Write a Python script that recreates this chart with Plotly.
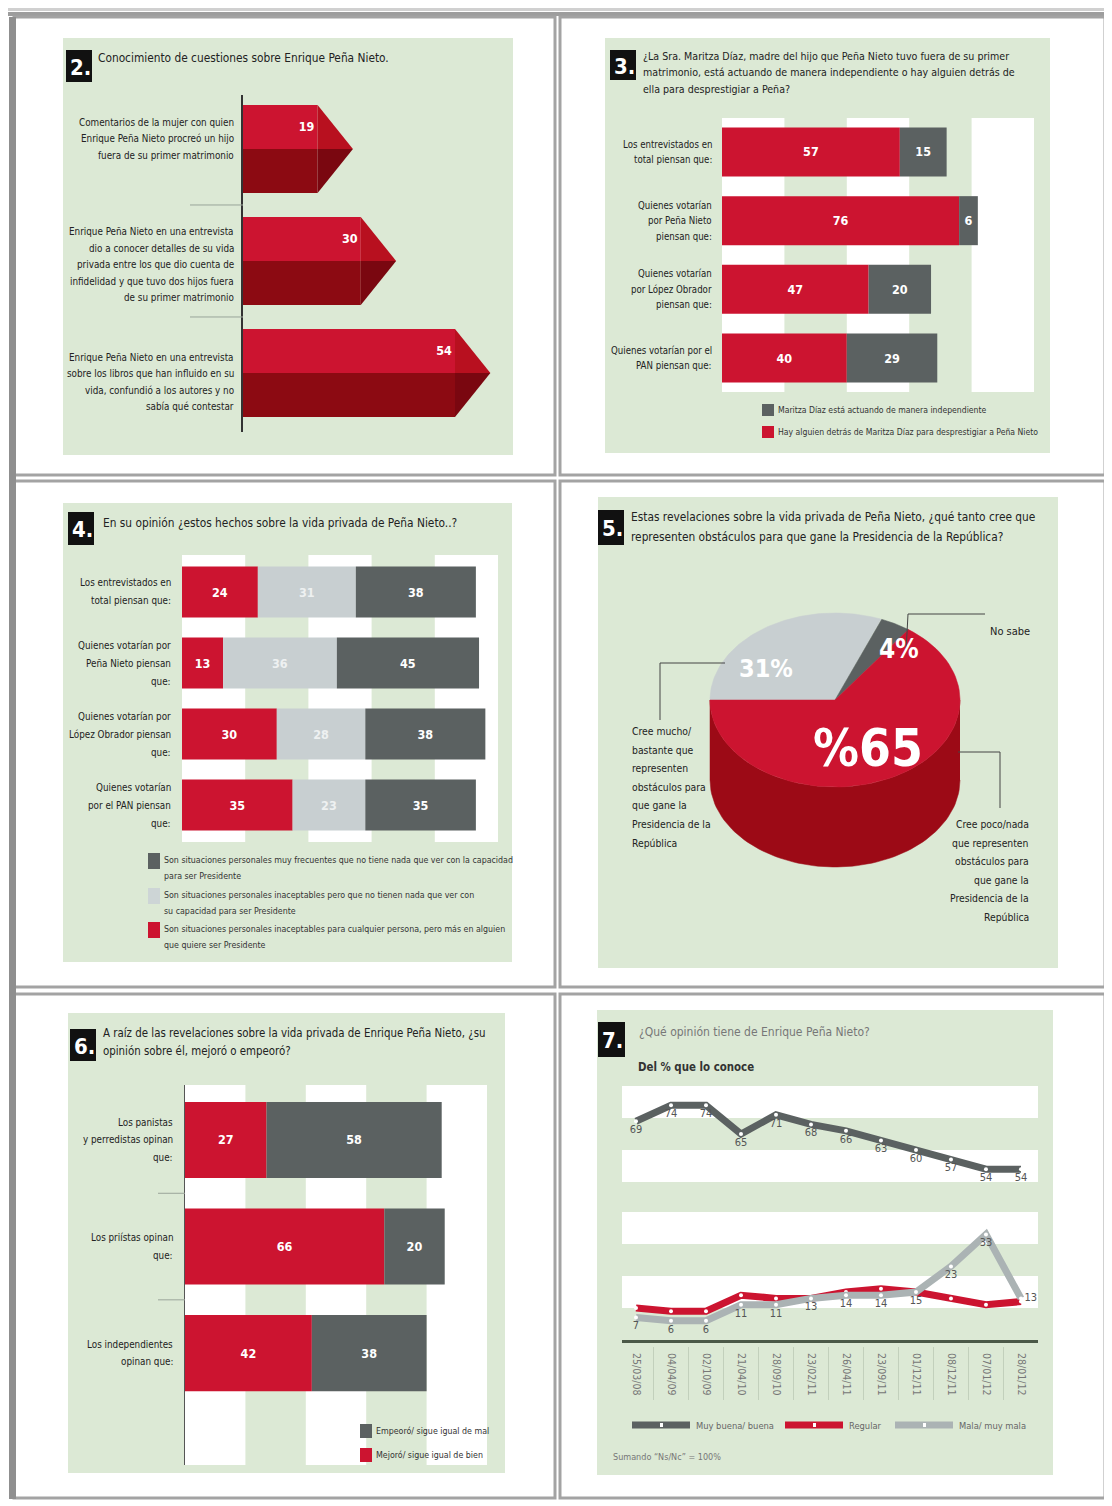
import numpy as np
import plotly.graph_objects as go

W, H = 1112, 1506
OFF = 8                      # default body margin of the html page
WF, HF = W - OFF, H - OFF    # figure size so the page is exactly W x H
FONT = "Liberation Sans Narrow, DejaVu Sans Condensed, Roboto Condensed, Arial Narrow, Liberation Sans, sans-serif"
RED = "#cc1430"
DARKRED = "#8c0a12"
DGRAY = "#5b6161"
LGRAY = "#c8cfd1"
GREEN = "#dce9d5"

# ---------------- data ----------------
p2_labels = [
    "Comentarios de la mujer con quien<br>Enrique Peña Nieto procreó un hijo<br>fuera de su primer matrimonio",
    "Enrique Peña Nieto en una entrevista<br>dio a conocer detalles de su vida<br>privada entre los que dio cuenta de<br>infidelidad y que tuvo dos hijos fuera<br>de su primer matrimonio",
    "Enrique Peña Nieto en una entrevista<br>sobre los libros que han influido en su<br>vida, confundió a los autores y no<br>sabía qué contestar",
]
p2_values = [19, 30, 54]

p3_labels = [
    "Los entrevistados en<br>total piensan que:",
    "Quienes votarían<br>por Peña Nieto<br>piensan que:",
    "Quienes votarían<br>por López Obrador<br>piensan que:",
    "Quienes votarían por el<br>PAN piensan que:",
]
p3_someone = [57, 76, 47, 40]
p3_indep = [15, 6, 20, 29]
p3_legend = ["Maritza Díaz está actuando de manera independiente",
             "Hay alguien detrás de Maritza Díaz para desprestigiar a Peña Nieto"]

p4_labels = [
    "Los entrevistados en<br>total piensan que:",
    "Quienes votarían por<br>Peña Nieto piensan<br>que:",
    "Quienes votarían por<br>López Obrador piensan<br>que:",
    "Quienes votarían<br>por el PAN piensan<br>que:",
]
p4_unacc_all = [24, 13, 30, 35]
p4_unacc_pers = [31, 36, 28, 23]
p4_frequent = [38, 45, 38, 35]
p4_legend = [
    "Son situaciones personales muy frecuentes que no tiene nada que ver con la capacidad<br>para ser Presidente",
    "Son situaciones personales inaceptables pero que no tienen nada que ver con<br>su capacidad para ser Presidente",
    "Son situaciones personales inaceptables para cualquier persona, pero más en alguien<br>que quiere ser Presidente",
]

p5_names = ["Cree mucho/<br>bastante que<br>representen<br>obstáculos para<br>que gane la<br>Presidencia de la<br>República",
            "No sabe",
            "Cree poco/nada<br>que representen<br>obstáculos para<br>que gane la<br>Presidencia de la<br>República"]
p5_values = [31, 4, 65]
p5_text = ["31%", "4%", "%65"]

p6_labels = [
    "Los panistas<br>y perredistas opinan<br>que:",
    "Los priístas opinan<br>que:",
    "Los independientes<br>opinan que:",
]
p6_better = [27, 66, 42]
p6_worse = [58, 20, 38]
p6_legend = ["Empeoró/ sigue igual de mal", "Mejoró/ sigue igual de bien"]

p7_dates = ["25/03/08", "04/04/09", "02/10/09", "21/04/10", "28/09/10", "23/02/11",
            "26/04/11", "23/09/11", "01/12/11", "08/12/11", "07/01/12", "28/01/12"]
p7_good = [69, 74, 74, 65, 71, 68, 66, 63, 60, 57, 54, 54]
p7_regular = [10, 9, 9, 14, 13, 13, 15, 16, 15, 13, 11, 12]
p7_bad = [7, 6, 6, 11, 11, 13, 14, 14, 15, 23, 33, 13]
p7_legend = ["Muy buena/ buena", "Regular", "Mala/ muy mala"]


# ---------------- helpers ----------------
def fx(p):
    return (p - OFF) / WF


def fy(p):
    return 1 - (p - OFF) / HF


def xdom(a, b):
    return [fx(a), fx(b)]


def ydom(top, bottom):
    return [fy(bottom), fy(top)]


shapes = []
annotations = []


def rect(x0, y0, x1, y1, fill, line=None, lw=0, layer="below"):
    shapes.append(dict(type="rect", xref="paper", yref="paper",
                       x0=fx(x0), x1=fx(x1), y0=fy(y1), y1=fy(y0),
                       fillcolor=fill, line=dict(color=line or fill, width=lw), layer=layer))


def pline(x0, y0, x1, y1, color="#444", width=1, layer="above"):
    shapes.append(dict(type="line", xref="paper", yref="paper",
                       x0=fx(x0), x1=fx(x1), y0=fy(y0), y1=fy(y1),
                       line=dict(color=color, width=width), layer=layer))


def ann(text, x, y, size=12, color="#222", xanchor="left", pitch=16, yref="paper",
        top=False, yshift=0):
    """Text placed line by line. x is a pixel position. If yref is 'paper', y is the
    pixel position of the first line (top=True) or the block centre; otherwise y is a
    data value on that axis and the block is centred on it."""
    lines = text.split("<br>")
    n = len(lines)
    for i, line in enumerate(lines):
        if top:
            off = i * pitch
        else:
            off = (i - (n - 1) / 2.0) * pitch
        if yref == "paper":
            yy, ys = fy(y + off), 0
        else:
            yy, ys = y, -off
        annotations.append(dict(text=line, x=fx(x), y=yy, xref="paper", yref=yref,
                                xanchor=xanchor, yanchor="middle", showarrow=False,
                                yshift=ys + yshift,
                                font=dict(family=FONT, size=size, color=color)))


def badge(num, x0, y0, x1, y1):
    rect(x0, y0, x1, y1, "#111111", layer="above")
    ann("<b>%s.</b>" % num, (x0 + x1) / 2 + 1, (y0 + y1) / 2 + 1, size=22,
        color="white", xanchor="center")


# ---------------- page frame ----------------
rect(8, 8, 1112, 11, "#d0d0d0")
rect(8, 12, 1112, 16, "#9d9d9d")
for (x0, y0, x1, y1) in [(14, 17, 555, 475), (560, 17, 1105, 475), (14, 481, 555, 987),
                         (560, 481, 1105, 987), (14, 994, 555, 1498), (560, 994, 1105, 1498)]:
    rect(x0, y0, x1, y1, "white", line="#a3a3a3", lw=3)
rect(9, 17, 16, 1499, "#8f8f8f")

for (x0, y0, x1, y1) in [(63, 38, 513, 455), (605, 38, 1050, 453), (63, 503, 512, 962),
                         (598, 497, 1058, 968), (68, 1013, 505, 1473), (597, 1010, 1053, 1475)]:
    rect(x0, y0, x1, y1, GREEN)

fig = go.Figure()
hidden = dict(showgrid=False, zeroline=False, showticklabels=False, ticks="", fixedrange=True)
BARFONT = dict(family=FONT, size=12.5, color="white")

# ================= Panel 2 =================
badge(2, 66, 50, 92, 82)
ann("Conocimiento de cuestiones sobre Enrique Peña Nieto.", 96, 58, size=11.8)
pos2 = list(range(len(p2_values)))
half = 0.393
fig.add_trace(go.Bar(x=p2_values, y=pos2, orientation="h", width=half, offset=-half,
                     marker=dict(color=RED, line=dict(width=0)),
                     text=["<b>%d</b>" % v for v in p2_values], textposition="inside",
                     insidetextanchor="end", textangle=0, textfont=BARFONT,
                     xaxis="x", yaxis="y", hoverinfo="skip"))
fig.add_trace(go.Bar(x=p2_values, y=pos2, orientation="h", width=half, offset=0,
                     marker=dict(color=DARKRED, line=dict(width=0)),
                     xaxis="x", yaxis="y", hoverinfo="skip"))
TIP = 9
for v, c in zip(p2_values, pos2):
    shapes.append(dict(type="path", xref="x", yref="y",
                       path="M %s,%s L %s,%s L %s,%s Z" % (v, c - half, v + TIP, c, v, c),
                       fillcolor="#b8101f", line=dict(width=0), layer="above"))
    shapes.append(dict(type="path", xref="x", yref="y",
                       path="M %s,%s L %s,%s L %s,%s Z" % (v, c, v + TIP, c, v, c + half),
                       fillcolor="#7a0710", line=dict(width=0), layer="above"))
label_shift2 = [10, -4, -9]
for c, lab in enumerate(p2_labels):
    ann(lab, 236, c, size=9.8, pitch=16.5, yref="y", xanchor="right", yshift=label_shift2[c])
for c in [0.5, 1.5]:
    shapes.append(dict(type="line", xref="paper", yref="y", x0=fx(190), x1=fx(243),
                       y0=c, y1=c, line=dict(color="#9aa59a", width=1)))

# ================= Panel 3 =================
badge(3, 610, 50, 636, 80)
ann("¿La Sra. Maritza Díaz, madre del hijo que Peña Nieto tuvo fuera de su primer<br>"
    "matrimonio, está actuando de manera independiente o hay alguien detrás de<br>"
    "ella para desprestigiar a Peña?", 641, 56, size=10.6, pitch=16.5, top=True)
pos3 = list(range(len(p3_someone)))
for x0 in [0, 40, 80]:
    shapes.append(dict(type="rect", xref="x2", yref="y2 domain", x0=x0, x1=x0 + 20, y0=0, y1=1,
                       fillcolor="white", line=dict(width=0), layer="below"))
fig.add_trace(go.Bar(x=p3_someone, y=pos3, base=0, orientation="h", width=0.714,
                     marker=dict(color=RED, line=dict(width=0)),
                     text=["<b>%d</b>" % v for v in p3_someone], textposition="inside",
                     insidetextanchor="middle", textangle=0, textfont=BARFONT,
                     xaxis="x2", yaxis="y2", hoverinfo="skip"))
fig.add_trace(go.Bar(x=p3_indep, y=pos3, base=p3_someone, orientation="h", width=0.714,
                     marker=dict(color=DGRAY, line=dict(width=0)),
                     text=["<b>%d</b>" % v for v in p3_indep], textposition="inside",
                     insidetextanchor="middle", textangle=0, textfont=BARFONT,
                     xaxis="x2", yaxis="y2", hoverinfo="skip"))
for i, lab in enumerate(p3_labels):
    ann(lab, 714, i, size=9.6, pitch=15.5, yref="y2", xanchor="right")
rect(762, 404, 774, 416, DGRAY, layer="above")
rect(762, 426, 774, 438, RED, layer="above")
ann(p3_legend[0], 776, 410, size=8.6, color="#333")
ann(p3_legend[1], 776, 432, size=8.6, color="#333")

# ================= Panel 4 =================
badge(4, 68, 512, 94, 545)
ann("En su opinión ¿estos hechos sobre la vida privada de Peña Nieto..?", 101, 523, size=11.8)
pos4 = list(range(len(p4_unacc_all)))
for x0 in [0, 40, 80]:
    shapes.append(dict(type="rect", xref="x3", yref="y3 domain", x0=x0, x1=x0 + 20, y0=0, y1=1,
                       fillcolor="white", line=dict(width=0), layer="below"))
base_b = p4_unacc_all
base_c = [a + b for a, b in zip(p4_unacc_all, p4_unacc_pers)]
for vals, base, col, tcol in [(p4_unacc_all, 0, RED, "white"),
                              (p4_unacc_pers, base_b, LGRAY, "#eef1f1"),
                              (p4_frequent, base_c, DGRAY, "white")]:
    fig.add_trace(go.Bar(x=vals, y=pos4, base=base, orientation="h", width=0.718,
                         marker=dict(color=col, line=dict(width=0)),
                         text=["<b>%d</b>" % v for v in vals], textposition="inside",
                         insidetextanchor="middle", textangle=0,
                         textfont=dict(family=FONT, size=12.5, color=tcol),
                         xaxis="x3", yaxis="y3", hoverinfo="skip"))
for i, lab in enumerate(p4_labels):
    ann(lab, 173, i, size=9.8, pitch=18, yref="y3", xanchor="right")
for (yy, col, txt) in [(853, DGRAY, p4_legend[0]), (888, "#cdd5d6", p4_legend[1]),
                       (922, RED, p4_legend[2])]:
    rect(148, yy, 160, yy + 16, col, layer="above")
    ann(txt, 162, yy + 7, size=8.8, color="#333", pitch=16, top=True)

# ================= Panel 5 (3D-like pie) =================
badge(5, 598, 510, 624, 545)
ann("Estas revelaciones sobre la vida privada de Peña Nieto, ¿qué tanto cree que<br>"
    "representen obstáculos para que gane la Presidencia de la República?",
    629, 517, size=11.8, pitch=20, top=True)
RX, RY, YC, DEPTH = 125.0, 87.0, 40.0, 80.0
top_cols = [LGRAY, DGRAY, RED]
wall_cols = ["#9aa2a4", "#3e4343", "#9c0a16"]
total = float(sum(p5_values))
a = 180.0
spans = []
for v in p5_values:
    s = 360.0 * v / total
    spans.append((a, a - s))
    a -= s
for (a0, a1), wc in zip(spans, wall_cols):
    hi, lo = min(a0, 0.0), max(a1, -180.0)
    if hi > lo:
        t = np.radians(np.linspace(hi, lo, 80))
        xs = np.concatenate([RX * np.cos(t), RX * np.cos(t[::-1])])
        ys = np.concatenate([YC + RY * np.sin(t), YC - DEPTH + RY * np.sin(t[::-1])])
        fig.add_trace(go.Scatter(x=xs, y=ys, fill="toself", fillcolor=wc, mode="lines",
                                 line=dict(width=0.5, color=wc), xaxis="x4", yaxis="y4",
                                 hoverinfo="skip"))
for (a0, a1), tc in zip(spans, top_cols):
    t = np.radians(np.linspace(a0, a1, 80))
    xs = np.concatenate([[0], RX * np.cos(t), [0]])
    ys = np.concatenate([[YC], YC + RY * np.sin(t), [YC]])
    fig.add_trace(go.Scatter(x=xs, y=ys, fill="toself", fillcolor=tc, mode="lines",
                             line=dict(width=0.5, color=tc), xaxis="x4", yaxis="y4",
                             hoverinfo="skip"))
ann("<b>%s</b>" % p5_text[0], 766, 669, size=25, color="white", xanchor="center")
ann("<b>%s</b>" % p5_text[1], 899, 649, size=26, color="white", xanchor="center")
ann("<b>%s</b>" % p5_text[2], 868, 749, size=51, color="white", xanchor="center")
pline(660, 720, 660, 663)
pline(660, 663, 725, 663)
pline(906, 652, 908, 614)
pline(908, 614, 985, 614)
pline(958, 752, 1000, 752)
pline(1000, 752, 1000, 808)
ann(p5_names[1], 988, 631, size=11)
ann(p5_names[0], 630, 731, size=10.3, pitch=18.6, top=True)
ann(p5_names[2], 1031, 824, size=10.3, pitch=18.6, top=True, xanchor="right")

# ================= Panel 6 =================
badge(6, 70, 1029, 96, 1061)
ann("A raíz de las revelaciones sobre la vida privada de Enrique Peña Nieto, ¿su<br>"
    "opinión sobre él, mejoró o empeoró?", 101, 1033, size=11.4, pitch=18, top=True)
pos6 = list(range(len(p6_better)))
for x0 in [0, 40, 80]:
    shapes.append(dict(type="rect", xref="x5", yref="y5 domain", x0=x0, x1=x0 + 20, y0=0, y1=1,
                       fillcolor="white", line=dict(width=0), layer="below"))
fig.add_trace(go.Bar(x=p6_better, y=pos6, base=0, orientation="h", width=0.714,
                     marker=dict(color=RED, line=dict(width=0)),
                     text=["<b>%d</b>" % v for v in p6_better], textposition="inside",
                     insidetextanchor="middle", textangle=0, textfont=BARFONT,
                     xaxis="x5", yaxis="y5", hoverinfo="skip"))
fig.add_trace(go.Bar(x=p6_worse, y=pos6, base=p6_better, orientation="h", width=0.714,
                     marker=dict(color=DGRAY, line=dict(width=0)),
                     text=["<b>%d</b>" % v for v in p6_worse], textposition="inside",
                     insidetextanchor="middle", textangle=0, textfont=BARFONT,
                     xaxis="x5", yaxis="y5", hoverinfo="skip"))
for i, lab in enumerate(p6_labels):
    ann(lab, 175, i, size=9.8, pitch=17.5, yref="y5", xanchor="right")
for c in [0.5, 1.5]:
    shapes.append(dict(type="line", xref="paper", yref="y5", x0=fx(158), x1=fx(185),
                       y0=c, y1=c, line=dict(color="#9aa59a", width=1)))
rect(360, 1424, 372, 1438, DGRAY, layer="above")
rect(360, 1448, 372, 1462, RED, layer="above")
ann(p6_legend[0], 374, 1431, size=8.8, color="#333")
ann(p6_legend[1], 374, 1455, size=8.8, color="#333")

# ================= Panel 7 =================
badge(7, 598, 1022, 625, 1057)
ann("¿Qué opinión tiene de Enrique Peña Nieto?", 637, 1032, size=12, color="#777")
ann("<b>Del % que lo conoce</b>", 636, 1067, size=11.4, color="#333")
xs7 = list(range(len(p7_dates)))
for lo in [50, 70]:
    shapes.append(dict(type="rect", xref="x6 domain", yref="y6", x0=0, x1=1, y0=lo, y1=lo + 10,
                       fillcolor="white", line=dict(width=0), layer="below"))
for lo in [10, 30]:
    shapes.append(dict(type="rect", xref="x7 domain", yref="y7", x0=0, x1=1, y0=lo, y1=lo + 10,
                       fillcolor="white", line=dict(width=0), layer="below"))
for k in range(len(p7_dates) - 1):
    shapes.append(dict(type="line", xref="x7", yref="paper", x0=k + 0.5, x1=k + 0.5,
                       y0=fy(1400), y1=fy(1347), line=dict(color="#c2d0bc", width=1)))
lblfont = dict(family=FONT, size=11, color="#555")
fig.add_trace(go.Scatter(x=xs7, y=p7_good, mode="lines+markers+text",
                         line=dict(color=DGRAY, width=7),
                         marker=dict(color="white", size=4, line=dict(width=0)),
                         text=[str(v) for v in p7_good], textposition="bottom center",
                         textfont=lblfont, xaxis="x6", yaxis="y6", hoverinfo="skip"))
fig.add_trace(go.Scatter(x=xs7, y=p7_regular, mode="lines+markers",
                         line=dict(color=RED, width=7),
                         marker=dict(color="white", size=4, line=dict(width=0)),
                         xaxis="x7", yaxis="y7", hoverinfo="skip"))
fig.add_trace(go.Scatter(x=xs7, y=p7_bad, mode="lines+markers+text",
                         line=dict(color="#abb3b4", width=7),
                         marker=dict(color="white", size=4, line=dict(width=0)),
                         text=[str(v) for v in p7_bad],
                         textposition=["bottom center"] * (len(p7_bad) - 1) + ["middle right"],
                         textfont=lblfont, xaxis="x7", yaxis="y7", hoverinfo="skip"))
for (x0, col, txt) in [(632, DGRAY, p7_legend[0]), (785, RED, p7_legend[1]),
                       (895, "#abb3b4", p7_legend[2])]:
    pline(x0, 1425, x0 + 58, 1425, color=col, width=7)
    rect(x0 + 28, 1423, x0 + 31, 1427, "white", layer="above")
    ann(txt, x0 + 62, 1425, size=9.3, color="#666")
ann("Sumando “Ns/Nc” = 100%", 611, 1457, size=9, color="#777")

# ---------------- axes ----------------
layout_axes = dict(
    xaxis=dict(domain=xdom(243, 510), range=[0, 68], anchor="y", **hidden),
    yaxis=dict(domain=ydom(95, 432), range=[2.527, -0.482], anchor="x", showline=True,
               linecolor="#333", linewidth=2, **hidden),
    xaxis2=dict(domain=xdom(722, 1034), range=[0, 100], anchor="y2", **hidden),
    yaxis2=dict(domain=ydom(118, 392), range=[3.495, -0.495], anchor="x2", **hidden),
    xaxis3=dict(domain=xdom(182, 498), range=[0, 100], anchor="y3", **hidden),
    yaxis3=dict(domain=ydom(555, 842), range=[3.52, -0.521], anchor="x3", **hidden),
    xaxis4=dict(domain=xdom(690, 980), range=[-145, 145], anchor="y4", **hidden),
    yaxis4=dict(domain=ydom(600, 880), range=[-140, 140], anchor="x4", **hidden),
    xaxis5=dict(domain=xdom(185, 487), range=[0, 100], anchor="y5", **hidden),
    yaxis5=dict(domain=ydom(1085, 1465), range=[3.05, -0.516], anchor="x5", showline=True,
                linecolor="#555", linewidth=1, **hidden),
    xaxis6=dict(domain=xdom(622, 1038), range=[-0.4, 11.486], anchor="y6", **hidden),
    yaxis6=dict(domain=ydom(1080, 1190), range=[47.5, 81.875], anchor="x6", **hidden),
    xaxis7=dict(domain=xdom(622, 1038), range=[-0.4, 11.486], anchor="y7", showgrid=False,
                zeroline=False, fixedrange=True, showline=True, linecolor="#4b5948", linewidth=3,
                tickmode="array", tickvals=xs7, ticktext=p7_dates, tickangle=90, ticks="",
                ticklabelstandoff=8,
                tickfont=dict(family=FONT, size=10.5, color="#777")),
    yaxis7=dict(domain=ydom(1205, 1340), range=[0, 42.19], anchor="x7", **hidden),
)

fig.update_layout(
    width=WF, height=HF, margin=dict(l=0, r=0, t=0, b=0),
    paper_bgcolor="white", plot_bgcolor="rgba(0,0,0,0)",
    showlegend=False, barmode="overlay",
    shapes=shapes, annotations=annotations,
    font=dict(family=FONT),
    **layout_axes,
)

fig.write_html("out.html")
